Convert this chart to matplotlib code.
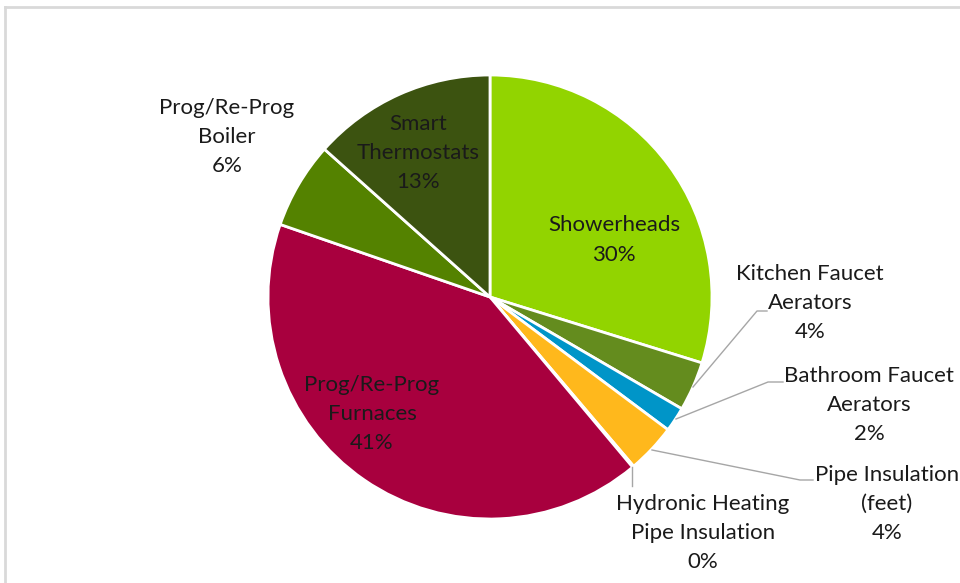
import matplotlib
matplotlib.use("Agg")
import matplotlib.pyplot as plt
from matplotlib.lines import Line2D

plt.rcParams['font.family'] = ['Lato', 'DejaVu Sans']

names = ['Showerheads', 'Kitchen Faucet\nAerators', 'Bathroom Faucet\nAerators',
         'Pipe Insulation\n(feet)', 'Hydronic Heating\nPipe Insulation',
         'Prog/Re-Prog\nFurnaces', 'Prog/Re-Prog\nBoiler', 'Smart\nThermostats']
values = [29.8, 3.6, 1.8, 3.6, 0.1, 41.4, 6.3, 13.4]
colors = ['#92D400', '#648C1E', '#0095C8', '#FFB81C', '#7F7F7F',
          '#A8003E', '#548200', '#3C5310']

# label centres (pixels) and leader line points (pixels)
label_pos = [(614, 240), (810, 303), (869, 405), (887, 504), (703, 533),
             (372, 414), (227, 137), (418, 153)]
leaders = {1: [(693, 387), (757, 311), (767, 311)],
           2: [(676, 419), (768, 382), (783, 382)],
           3: [(652, 450), (800, 480), (813, 480)],
           4: [(632, 467), (632, 486)]}

W, H = 960, 583
cx, cy, r = 490, 297, 222

fig = plt.figure(figsize=(W / 100, H / 100), dpi=100)
ax = fig.add_axes([(cx - r) / W, (H - cy - r) / H, 2 * r / W, 2 * r / H])
ax.pie(values, colors=colors, startangle=90, counterclock=False, radius=1,
       wedgeprops=dict(edgecolor='white', linewidth=2))
ax.set_xlim(-1, 1)
ax.set_ylim(-1, 1)
ax.axis('off')


def to_data(p):
    return ((p[0] - cx) / r, (cy - p[1]) / r)


for i, name in enumerate(names):
    x, y = to_data(label_pos[i])
    txt = name + '\n' + f'{values[i]:.0f}%'
    ax.text(x, y, txt, ha='center', va='center', fontsize=16, color='#1A1A1A',
            linespacing=1.58, clip_on=False)

for i, pts in leaders.items():
    d = [to_data(p) for p in pts]
    ax.plot([p[0] for p in d], [p[1] for p in d], color='#A6A6A6', lw=1,
            clip_on=False)

# chart frame
fig.add_artist(Line2D([5 / W, 1], [1 - 7 / H, 1 - 7 / H], color='#D9D9D9', lw=2))
fig.add_artist(Line2D([5 / W, 5 / W], [0, 1 - 7 / H], color='#D9D9D9', lw=2))

fig.savefig('out.png', dpi=100, facecolor='white')
